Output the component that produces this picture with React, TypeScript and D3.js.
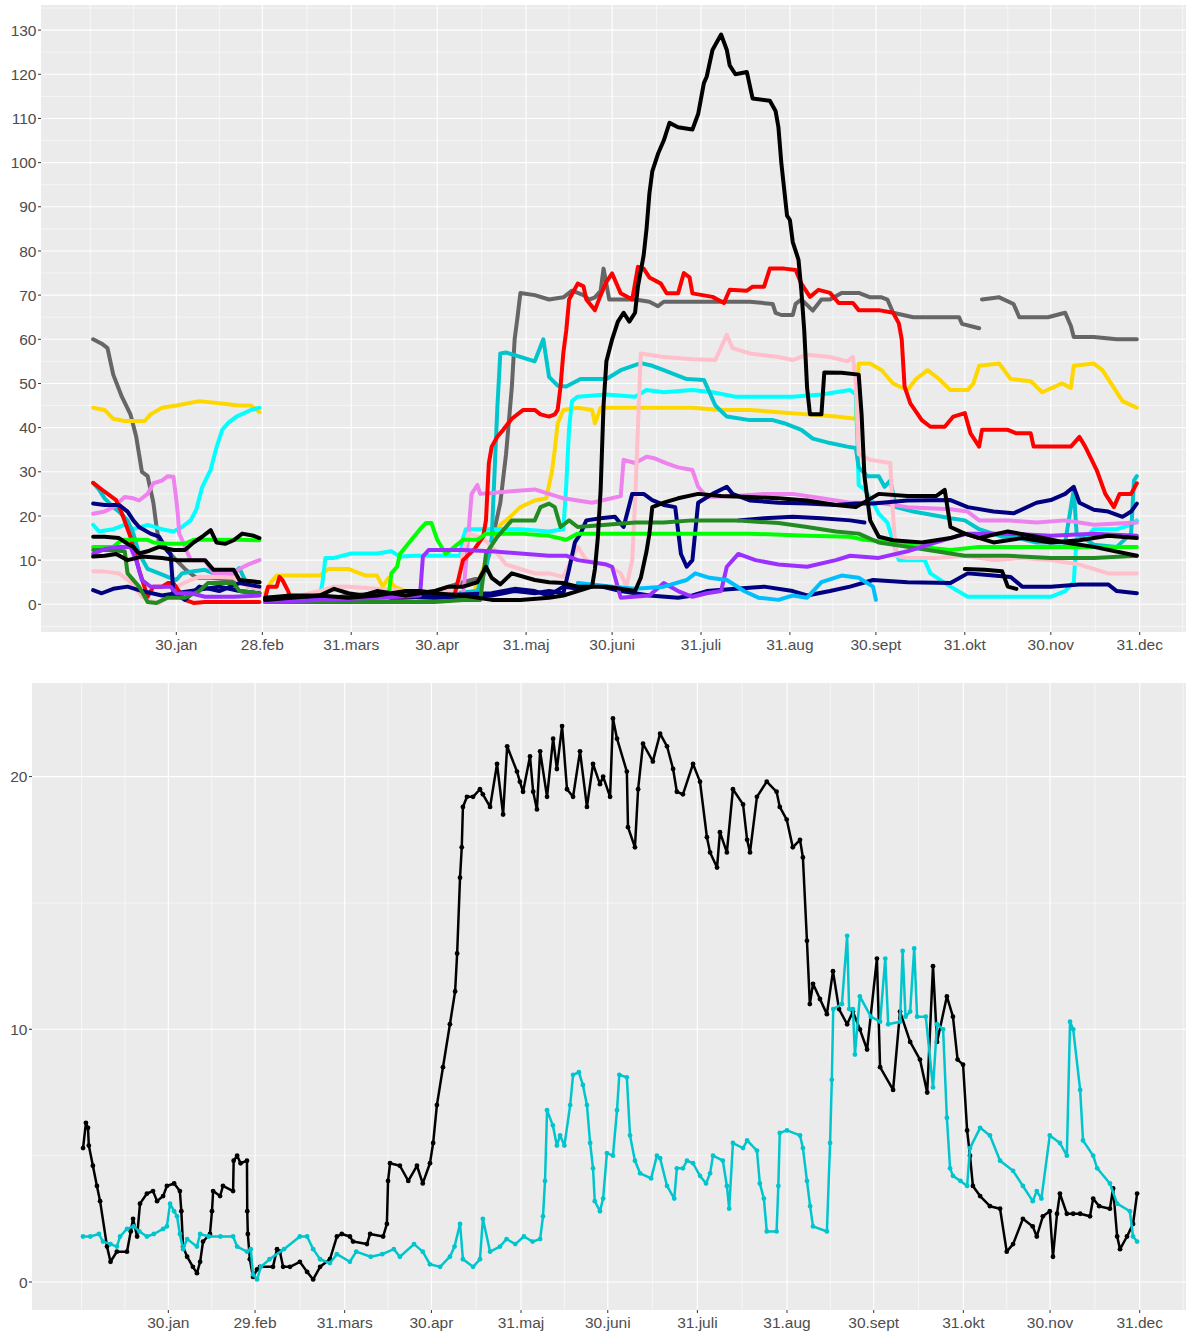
import React from "react";
import * as d3 from "d3";

type P = [number, number] | null;

// x values are day-of-year (0 = 31 Dec of the previous year)
const xTickDays = [30, 60, 91, 121, 152, 182, 213, 244, 274, 305, 335, 366];
const topXLabels = ["30.jan", "28.feb", "31.mars", "30.apr", "31.maj", "30.juni", "31.juli", "31.aug", "30.sept", "31.okt", "30.nov", "31.dec"];
const bottomXLabels = ["30.jan", "29.feb", "31.mars", "30.apr", "31.maj", "30.juni", "31.juli", "31.aug", "30.sept", "31.okt", "30.nov", "31.dec"];
const xMinorDays = [0, 15, 45, 75.5, 106, 136.5, 167, 197.5, 228.5, 259, 289.5, 320, 350.5, 381];
const topYTicks = [0, 10, 20, 30, 40, 50, 60, 70, 80, 90, 100, 110, 120, 130];
const topYMinor = [-5, 5, 15, 25, 35, 45, 55, 65, 75, 85, 95, 105, 115, 125, 135];
const bottomYTicks = [0, 10, 20];
const bottomYMinor = [5, 15];

// ---------- top panel series ----------
const sGray: P[] = [[1,60],[4,59],[6,58],[8,52],[11,47],[14,43],[16,38],[17,34],[18,30],[20,29],[22,23],[23,18],[24,14],[27,12],[30,10],[33,8],[37,6],[42,6],[50,5.5],[59,5],null,
  [61,1.5],[70,1.5],[80,1],[90,2],[100,2.5],[110,2],[120,3],[125,4],[130,5],[136,6],[139,11],[143,23],[145,34],[147,49],[148,60],[149,65],[150,70.5],[155,70],[160,69],[165,69.5],[168,71],[172,70],[174,69],[176,69.5],[178,71],[179,76],[181,69],[185,69],[190,69],[195,68.5],[198,67.5],[200,68.5],[210,68.5],[220,68.5],[230,68.5],[238,68],[239,66],[241,65.5],[245,65.5],[246,68],[248,69],[252,66.5],[255,69],[258,69],[262,70.5],[268,70.5],[272,69.5],[276,69.5],[278,69],[280,66],[287,65],[295,65],[303,65],[304,63.5],[310,62.5],null,
  [311,69],[317,69.5],[322,68],[324,65],[334,65],[340,66],[342,63],[343,60.5],[350,60.5],[358,60],[365,60]];
const sGold: P[] = [[1,44.5],[5,44],[8,42],[12,41.5],[16,41.5],[19,41.5],[21,43],[25,44.5],[30,45],[38,46],[45,45.5],[52,45],[56,45],[58,44],[59,43.5],null,
  [61,2.5],[63,5],[65,6.5],[70,6.5],[80,6.5],[83,8],[90,8],[96,6.5],[100,6.5],[102,4],[104,6],[106,4],[110,3],[120,3],[130,2.5],[134,3],[137,8],[140,14],[143,18],[146,19.5],[150,22],[155,23.5],[159,24],[160,27],[161,30],[162,35],[163,41],[165,44],[170,44.5],[175,44],[176,41],[178,44.5],[185,44.5],[200,44.5],[210,44.5],[220,44],[230,44],[240,43.5],[250,43],[260,42.5],[267,42],[268,54.5],[272,54.5],[276,53],[280,50],[285,48.5],[288,51],[292,53],[296,51],[300,48.5],[306,48.5],[308,50],[310,54],[317,54.5],[321,51],[328,50.5],[332,48],[339,50],[342,49],[343,54],[350,54.5],[353,53],[357,49],[360,46],[365,44.5]];
const sCyan: P[] = [[1,18],[3,16.5],[8,17],[12,18],[15,17],[20,18],[25,17],[29,16.5],[32,17.5],[35,19],[37,21.5],[39,26.5],[42,30.5],[44,35.5],[46,39.5],[48,41],[51,42.5],[56,44],[59,44.5],null,
  [61,1],[70,1],[80,1.5],[81,5],[82,10.5],[85,10.5],[91,11.5],[100,11.5],[105,12],[108,10.8],[113,11],[120,11],[129,11],[130,15],[131,17],[140,17],[150,17],[160,16.5],[165,17],[166,27],[167,40],[168,46],[170,47],[180,47.5],[190,47],[194,48.5],[200,48],[210,48.5],[217,48],[225,47],[235,47],[245,47],[255,47.5],[260,48],[265,48.5],[267,47.5],[268,27],[270,26],[273,23],[275,20.5],[278,18.5],[282,10],[291,10],[293,7],[300,4],[306,1.7],[315,1.7],[325,1.7],[335,1.7],[340,3],[343,5],[344,15],[347,15],[350,17],[358,17],[363,18],[365,19]];
const sTurq: P[] = [[1,27.5],[3,26],[5,24],[8,22],[10,21],[13,19],[15,16],[17,11.5],[20,8],[24,7],[27,6.2],[30,5.5],[32,7],[36,7.5],[40,7.8],[43,7],[50,7],[52,8.2],[55,4],[59,3.5],null,
  [61,1],[80,1],[100,1.5],[120,2],[135,3],[138,8],[140,15],[141,30],[142,45],[143,56.8],[145,57],[150,56],[155,55],[158,60],[160,51.5],[163,49.5],[166,49.3],[171,51],[180,51],[185,53],[192,54.6],[196,54],[200,53],[208,51],[214,50.8],[218,45],[222,42.5],[230,41.7],[238,41.7],[242,41],[246,40],[248,39.5],[252,37.5],[258,36.5],[264,35.7],[267,35.4],[268,31],[271,29],[275,29],[277,26.6],[279,28],[281,22],[287,21],[300,19.5],[305,19],[310,17],[318,15.3],[322,15.3],[330,14],[340,14],[342,22],[343,26],[344,16],[350,13.5],[358,13],[363,16],[364,28],[365,29]];
const sViolet: P[] = [[1,20.5],[5,21],[8,22],[12,24.3],[15,24],[17,23.5],[20,25],[22,27.4],[25,28],[27,29],[29,28.9],[30,23.6],[30.5,20.6],[31,16],[32,14.6],[35,10],[40,10],[43,7],[50,7],[52,8],[55,9],[59,10],null,
  [61,0.5],[80,1],[100,1],[125,1.5],[130,2],[131,9],[133,25],[135,27],[136,25],[145,25.5],[155,26],[160,25],[165,24],[175,23],[185,24.5],[186,32.7],[190,32],[194,33.4],[197,33],[201,31.9],[205,31],[210,30.4],[212,26.6],[215,24.3],[225,24.5],[235,25],[245,25],[255,24],[265,23],[275,23],[285,22],[300,21.5],[306,21],[310,19],[320,19],[330,18.5],[340,19],[350,18],[365,18.5]];
const sPink: P[] = [[1,7.5],[5,7.4],[10,7],[14,5],[18,1.7],[22,0.5],[24,0.3],[28,2],[30,4],[35,5.5],[38,6.2],[45,6.2],[50,6],[55,4],[59,3.5],null,
  [61,1],[70,1.5],[80,3],[85,4],[90,4],[100,3.5],[110,3],[120,3],[128,3],[130,12],[132,16],[137,15],[141,12.3],[145,9],[150,8],[155,7],[160,7],[165,6.2],[170,13],[173,10],[180,9],[185,7],[187,4],[189,10],[190,23],[191,40],[192,56.8],[200,56],[210,55.5],[218,55.3],[222,61],[224,58],[230,56.8],[240,56],[245,55.3],[250,56.5],[258,56],[264,55],[266,56],[267,50],[268,34],[272,32.7],[279,32],[280,20],[281,11],[285,10.5],[295,10.5],[305,11],[315,10],[325,10.5],[335,10],[345,9],[350,8],[355,7],[365,7]];
const sRed: P[] = [[1,27.5],[4,26],[9,23.6],[11,20.6],[14,15.3],[17,7.8],[20,1.7],[22,4],[25,4],[27,4.8],[29,4.8],[33,1],[36,0.3],[40,0.5],[50,0.5],[59,0.5],null,
  [61,1.5],[62,4],[65,4],[66,6.2],[67,5.5],[69,3],[70,1],[80,0.5],[100,1],[110,1.5],[120,2],[127,2],[130,10],[134,12.5],[137,15.3],[138,19],[139,31.9],[140,35.7],[142,38],[144,39.5],[147,42],[151,44],[155,44],[157,43],[160,42.5],[162,43],[163,44],[164,49.3],[165,57],[166,62],[167,69],[170,72.6],[172,72],[173,69],[176,66.6],[178,70],[180,73],[182,74.9],[185,70.4],[189,69],[191,76.4],[193,76],[195,74],[199,72.6],[201,70.4],[205,70.4],[207,75],[209,74],[210,70.4],[217,69.6],[221,68.2],[223,71.2],[229,71],[231,71.9],[235,71.9],[237,76],[242,76],[246,75.7],[248,72.6],[251,69.6],[254,71.2],[258,70.5],[261,68.2],[266,68.2],[268,66.6],[275,66.6],[280,66],[282,63.6],[283,60],[284,49.3],[286,45.5],[290,41.7],[293,40.2],[298,40.2],[301,42.5],[305,43.3],[307,38.7],[310,35.7],[311,39.5],[320,39.5],[323,38.7],[328,38.7],[329,35.7],[336,35.7],[342,35.7],[345,37.9],[347,35.7],[351,30.4],[354,25],[357,22],[359,25],[363,25],[365,27.4]];
const sNavy1: P[] = [[1,22.8],[5,22.5],[10,22.5],[13,21],[15,19],[17,17.5],[21,16],[24,15.3],[27,12],[28,11.4],[29,2.5],[33,1],[38,4],[45,3],[52,4.8],[59,4],null,
  [61,1],[80,1],[100,2],[120,1.5],[140,2],[148,3],[155,2.5],[160,3],[165,2.5],[167,8],[169,14],[171,16],[173,19],[178,19.5],[183,19.8],[186,17.5],[189,25],[193,25],[196,23.6],[200,22.5],[204,22],[206,11.4],[208,8.5],[210,10],[212,23],[217,25],[222,26.6],[224,25],[230,23.5],[240,23],[250,22.8],[260,22.5],[267,22.8],[273,22.8],[285,23.5],[300,23.6],[306,22],[315,21],[322,20.6],[330,23],[335,23.6],[340,25],[343,26.6],[345,23],[350,21.4],[355,21],[360,19.8],[363,21],[365,22.8]];
const sNavy2: P[] = [[1,3.2],[4,2.5],[8,3.5],[13,4],[18,3],[25,2],[35,3],[45,4],[52,3],[59,2.5],null,
  [61,1],[90,1.5],[120,2],[140,2.5],[148,3.5],[155,3],[160,2],[165,4],[170,3.5],[175,4.5],[185,3],[195,2],[205,1.5],[210,2],[215,3],[225,3.5],[235,4],[245,3],[250,2],[258,3],[265,4],[273,5.5],[285,5],[300,4.8],[306,7],[315,6.5],[321,6.2],[325,4],[335,4],[345,4.5],[355,4.5],[358,3],[365,2.5]];
const sNavy3: P[] = [[226,19],[235,19.5],[245,19.8],[255,19.5],[265,19],[270,18.5]];
const sGreen: P[] = [[1,13],[8,13],[11,14.6],[20,14.6],[22,14],[27,13.7],[33,13.7],[36,14.6],[45,14.6],[52,14.6],[59,14.5],null,
  [61,0.5],[80,0.5],[100,1],[104,1.5],[105,7],[107,8.5],[108,11.4],[112,14.6],[115,17],[117,18.4],[119,18.4],[121,14.6],[124,11.4],[127,13],[130,14.6],[135,14.6],[138,16],[150,16],[160,15.5],[166,14.6],[170,16],[190,16],[210,16],[230,16],[250,15.5],[265,15.3],[270,14.6],[280,14],[290,13],[300,12.3],[310,13],[320,13],[335,13],[350,13],[365,13]];
const sForest: P[] = [[1,12.3],[6,12.3],[12,12],[13,7],[17,4],[20,0.5],[23,0.3],[27,1.5],[33,1.5],[38,3],[41,4.8],[50,4.8],[52,3],[59,2.5],null,
  [61,0.5],[90,0.5],[120,0.5],[130,1],[136,1],[138,11.4],[142,15.3],[147,19],[155,19],[157,22],[160,22.8],[162,22],[164,17.5],[167,19],[170,17.5],[180,18],[190,18.5],[200,18.5],[210,19],[225,19],[240,18.4],[250,17.5],[260,16.5],[268,16],[275,14],[285,13],[295,12],[305,11],[320,11],[335,10.5],[350,10.5],[365,11]];
const sPurple: P[] = [[1,11.4],[5,12.5],[10,13],[14,13],[16,10],[18,5.5],[21,4],[28,4],[30,2.5],[35,2.5],[40,1.7],[50,1.7],[59,2],null,
  [61,0.5],[80,1],[100,1.5],[115,2],[116,10.8],[118,12.3],[130,12.3],[140,12],[150,11.5],[160,11],[166,11],[170,10],[180,9],[182,8.5],[185,1.5],[195,2],[200,4.8],[205,3],[210,1.7],[215,2.5],[220,3],[222,8.5],[226,11.4],[232,10],[240,9],[250,8.5],[260,10],[265,11],[275,10.5],[285,12],[295,14],[300,15],[306,16],[320,16],[335,15.5],[350,16],[365,15.5]];
const sDeepSky: P[] = [[170,4.8],[175,4.5],[182,4],[190,3.5],[200,4],[208,5.5],[211,7],[216,6],[222,5.5],[228,3],[233,1.5],[240,1],[245,2],[250,1.5],[255,5],[262,6.5],[268,6],[273,4],[274,1]];
const sBlackA: P[] = [[1,15.3],[5,15.3],[10,15],[13,13.7],[15,13],[17,11.5],[20,12],[24,13],[29,12.3],[33,12.3],[36,14],[39,15.3],[42,16.8],[44,14],[47,13.7],[50,14.5],[53,16],[57,15.5],[59,15],null,
  [61,1],[70,1.5],[80,2],[90,1.5],[100,2],[110,3],[115,3],[120,2.5],[130,2],[140,1],[150,1],[160,1.5],[165,2],[170,3],[175,4],[176,8],[177,15],[178,26],[179,45],[180,55],[182,60],[184,64],[186,66],[188,64],[190,66],[191,72],[193,79],[194,85],[195,93],[196,98],[198,102],[200,105],[202,109],[205,108],[210,107.5],[212,111],[214,118],[215,119.5],[217,125.5],[220,129],[222,125.5],[223,122],[225,120],[229,120.5],[231,114.5],[237,114],[239,111.7],[240,108],[241,100],[242,94],[243,88],[244,87],[245,82],[247,78],[248,71],[249,62],[250,49],[251,43],[255,43],[256,52.5],[262,52.4],[268,52],[269,43],[270,29],[272,19],[275,15.3],[280,14.5],[290,14],[300,15],[305,16],[315,14],[325,15],[335,14],[345,14.5],[355,15.5],[365,15]];
const sBlackB: P[] = [[1,10.8],[5,11],[9,11.4],[13,10],[18,10.8],[25,10.5],[30,10],[35,10],[40,10],[43,7.8],[50,7.8],[52,5.5],[59,5],null,
  [61,1.5],[70,2],[80,2],[85,3.5],[90,2.5],[95,2],[100,3],[110,2],[120,3],[125,4],[130,4],[135,5],[138,8.5],[140,6],[143,4.5],[147,7],[155,5.5],[160,5],[165,4.8],[170,4],[180,4],[185,3.5],[190,3],[192,6],[194,12],[195,16],[196,22],[200,23],[205,24],[212,25],[220,24.5],[230,24.3],[240,24],[250,23.5],[260,22.5],[267,22],[275,25],[285,24.5],[295,24.5],[298,25.9],[300,17.5],[305,16],[310,15],[320,16.5],[330,15.3],[340,14],[350,13],[365,11]];
const sBlackC: P[] = [[305,8],[312,7.8],[318,7.5],[320,4],[323,3.5]];

const topSeries: P[][] = [sGray, sGold, sCyan, sTurq, sViolet, sPink, sRed, sNavy1, sNavy2, sNavy3, sGreen, sForest, sPurple, sDeepSky, sBlackA, sBlackB, sBlackC];
const topColors = ["#666666", "#FFD700", "#00FFFF", "#00C5CD", "#EE82EE", "#FFC0CB", "#FF0000", "#000080", "#000080", "#000080", "#00FF00", "#228B22", "#9B30FF", "#00BFFF", "#000000", "#000000", "#000000"];

// ---------- bottom panel series ----------
const bBlack: P[] = [[0.5,5.3],[1.5,6.3],[2.2,6.1],[2.5,5.4],[3.9,4.6],[5.3,3.8],[6.4,3.2],[8.8,1.4],[10,0.8],[12.2,1.2],[15.7,1.2],[17,2],[17.8,2.5],[19.2,1.8],[20.2,3.1],[22.6,3.5],[24.7,3.6],[26.1,3.2],[28.2,3.4],[29.5,3.8],[32,3.9],[34,3.6],[34.5,2.8],[35.1,1.4],[36.5,1],[38.5,0.6],[39.9,0.35],[41,0.8],[42,1.6],[44.4,1.9],[45.1,2.8],[45.5,3.6],[47.9,3.4],[48.9,3.8],[52.4,3.6],[52.6,4.8],[53.8,5],[55,4.7],[57.2,4.8],[57.3,2.8],[57.5,1.9],[58.2,0.9],[59.3,0.2],[60.7,0.5],[61.7,0.6],[66.2,0.6],[67.6,1.3],[68.6,1.2],[69.7,0.6],[72.1,0.6],[75.5,0.8],[78,0.4],[80.1,0.1],[82.5,0.6],[85.9,0.9],[88.3,1.8],[90,1.9],[92.8,1.8],[93.9,1.6],[98.7,1.5],[99.8,1.9],[104.3,1.8],[105.6,2.3],[106,4],[106.7,4.7],[110.1,4.6],[113,4],[116,4.6],[118,3.9],[120.5,4.7],[121.6,5.5],[122.9,7],[125,8.5],[127.4,10.2],[129.2,11.5],[129.9,13],[130.9,16],[131.5,17.2],[131.9,18.8],[133.3,19.2],[135.4,19.2],[137.8,19.5],[138.8,19.3],[141.3,18.8],[143.7,20.5],[145.8,18.5],[147.2,21.2],[150.6,20.2],[151.6,19.8],[152.7,19.4],[155.1,20.8],[156.2,19.4],[157.5,18.7],[158.6,21],[161,19.2],[163.1,21.5],[164.4,20.3],[166.2,22],[167.9,19.5],[170,19.2],[172.4,21],[174.8,18.8],[176.9,20.5],[179.3,19.7],[180.4,20],[182.8,19.2],[183.8,22.3],[185.2,21.5],[188.6,20.2],[189,18],[191.4,17.2],[192.5,19.5],[194.2,21.3],[197.6,20.6],[200.1,21.7],[202.5,21.2],[204.6,20.3],[205.9,19.4],[208,19.3],[211.5,20.5],[213.9,19.8],[216.3,17.6],[217.4,17],[219.8,16.4],[220.8,17.8],[223.2,17],[225.3,19.5],[228.8,18.9],[230.2,17.5],[231.2,17],[233.6,19.2],[237,19.8],[240.4,19.4],[241.5,18.8],[243.9,18.3],[246,17.2],[248.5,17.5],[249.5,16.8],[250.9,13.5],[251.9,11],[253,11.8],[255.4,11.2],[257.8,10.6],[259.9,12.3],[262,10.8],[264.8,10.2],[266.8,10.7],[269.2,10],[271.7,9.2],[275.1,12.8],[276.2,8.5],[280.7,7.6],[283.1,10.7],[286.6,9.5],[290,8.8],[292.5,7.5],[294.5,12.5],[295.9,9.5],[299.3,11.3],[301.4,10.5],[303,8.8],[304.9,8.6],[306.3,6],[307.3,5],[308.3,3.8],[310.8,3.4],[314.2,3],[317.7,2.9],[320,1.2],[322.2,1.5],[325.6,2.5],[329,2.2],[330.4,1.8],[332.5,2.6],[334.9,2.8],[336,1],[337.4,2.7],[338.4,3.5],[340.8,2.7],[343,2.7],[345.4,2.7],[348.8,2.6],[349.9,3.3],[352,3],[355.7,2.9],[356.8,3.7],[358.2,1.8],[359.2,1.3],[361.6,1.8],[363.7,2.3],[365.1,3.5]];
const bTurq: P[] = [[0.5,1.8],[3,1.8],[6,1.9],[7.4,1.6],[10,1.5],[12.2,1.4],[13.3,1.8],[15.7,2.1],[18,2.2],[20,2],[22.6,1.8],[25,1.9],[28.2,2.1],[29.5,2.2],[30.6,3.1],[32,2.8],[33,2.6],[34,1.9],[35.1,1.3],[36.5,1.7],[39.9,1.4],[41,1.9],[44,1.8],[48,1.8],[52.4,1.8],[53.8,1.4],[57.2,1.2],[58.5,1.3],[59.3,0.3],[60.7,0.1],[62,0.6],[65,0.9],[70,1.3],[75.5,1.8],[78,1.8],[80.1,1.3],[82.5,0.9],[85.9,0.75],[88.3,1.1],[92.8,0.8],[95,1.2],[100,1],[104,1.1],[108,1.3],[110.1,1],[115,1.5],[118,1.2],[120.5,0.7],[124,0.6],[127.4,1],[129,1.4],[130.9,2.3],[131.9,0.9],[135.4,0.6],[137.8,0.9],[138.8,2.5],[141.3,1.2],[144.7,1.4],[147,1.7],[150,1.5],[153,1.8],[156,1.6],[158.6,1.7],[159.6,2.6],[160.3,4],[161,6.8],[163,6.2],[164.4,5.4],[165.5,5.8],[167,5.4],[169,7],[170,8.2],[172,8.3],[173.4,7.8],[174.8,7],[175.9,5.5],[176.9,4.5],[177.5,3.2],[179.3,2.8],[180.4,3.3],[181.7,5.1],[183.8,5],[185.2,6.8],[186,8.2],[188.6,8.1],[189.7,5.8],[191.4,4.8],[193.2,4.3],[197,4.1],[199,5],[200.1,4.9],[202.5,3.8],[205,3.3],[205.9,4.5],[208,4.5],[209.4,4.8],[211.5,4.7],[213.9,4.2],[216,3.9],[217.4,4.3],[218.4,5],[221.8,4.8],[223.2,3.8],[224,2.9],[225.3,5.5],[228.8,5.3],[230.2,5.6],[233.6,5.2],[234.6,3.9],[236,3.3],[237,2],[240.4,2],[241,3.8],[241.5,5.9],[244,6],[248.5,5.8],[249.5,5.3],[250.9,4],[252,3],[253,2.2],[257.8,2],[258.9,5.5],[259.5,8],[260,10.8],[263,11],[264.8,13.7],[265.5,10.8],[266.8,10.8],[267.5,9],[269.2,11.3],[273,10.5],[276.2,10.3],[278,12.8],[279,10.2],[283.1,10.3],[284,13.1],[285,10.5],[286.6,10.7],[288,13.2],[289,10.5],[292,10.5],[294.5,7.7],[295.9,10.2],[298,10],[299.3,6.5],[300.4,4.5],[301.4,4.2],[304,4],[306.3,3.8],[307.3,5.3],[310.8,6.1],[314.2,5.8],[317.7,4.8],[322.2,4.4],[325.6,3.8],[329,3.2],[330.4,3.6],[332,3.3],[334.9,5.8],[338.4,5.5],[340.8,5],[341.9,10.3],[343,10],[345.4,7.6],[346.4,5.6],[349.9,5],[351.3,4.5],[355.7,3.9],[358.2,3.1],[362.6,2.8],[363.7,1.8],[365.1,1.6]];

const bottomSeries: P[][] = [bBlack, bTurq];
const bottomColors = ["#000000", "#00C5CD"];

const FONT = "'Liberation Sans', Arial, Helvetica, sans-serif";
const PANEL_BG = "#EBEBEB";
const TEXT = "#4D4D4D";

type PanelProps = {
  left: number; right: number; top: number; bottom: number;
  x: d3.ScaleLinear<number, number>; y: d3.ScaleLinear<number, number>;
  yTicks: number[]; yMinor: number[]; xLabels: string[];
  series: P[][]; colors: string[]; width: number; dotR: number; clipId: string;
};

function Panel(p: PanelProps) {
  const line = d3.line<P>()
    .defined((d) => d !== null)
    .x((d) => p.x((d as [number, number])[0]))
    .y((d) => p.y((d as [number, number])[1]));
  return (
    <g>
      <defs>
        <clipPath id={p.clipId}>
          <rect x={p.left} y={p.top} width={p.right - p.left} height={p.bottom - p.top} />
        </clipPath>
      </defs>
      <rect x={p.left} y={p.top} width={p.right - p.left} height={p.bottom - p.top} fill={PANEL_BG} />
      <g clipPath={`url(#${p.clipId})`}>
        {p.yMinor.map((v) => (
          <line key={"ym" + v} x1={p.left} x2={p.right} y1={p.y(v)} y2={p.y(v)} stroke="#fff" strokeWidth={0.55} />
        ))}
        {xMinorDays.map((v) => (
          <line key={"xm" + v} y1={p.top} y2={p.bottom} x1={p.x(v)} x2={p.x(v)} stroke="#fff" strokeWidth={0.55} />
        ))}
        {p.yTicks.map((v) => (
          <line key={"yM" + v} x1={p.left} x2={p.right} y1={p.y(v)} y2={p.y(v)} stroke="#fff" strokeWidth={1.1} />
        ))}
        {xTickDays.map((v) => (
          <line key={"xM" + v} y1={p.top} y2={p.bottom} x1={p.x(v)} x2={p.x(v)} stroke="#fff" strokeWidth={1.1} />
        ))}
        {p.series.map((s, i) => (
          <g key={"s" + i}>
            <path d={line(s) || ""} fill="none" stroke={p.colors[i]} strokeWidth={p.width}
              strokeLinecap="round" strokeLinejoin="round" />
            {p.dotR > 0 && s.map((d, j) => d === null ? null : (
              <circle key={j} cx={p.x(d[0])} cy={p.y(d[1])} r={p.dotR} fill={p.colors[i]} />
            ))}
          </g>
        ))}
      </g>
      {p.yTicks.map((v) => (
        <g key={"yt" + v}>
          <line x1={p.left - 3} x2={p.left} y1={p.y(v)} y2={p.y(v)} stroke="#333" strokeWidth={1} />
          <text x={p.left - 4.5} y={p.y(v)} dy="0.36em" textAnchor="end" fontFamily={FONT} fontSize={15.5} fill={TEXT}>{v}</text>
        </g>
      ))}
      {xTickDays.map((v, i) => (
        <g key={"xt" + v}>
          <line x1={p.x(v)} x2={p.x(v)} y1={p.bottom} y2={p.bottom + 3} stroke="#333" strokeWidth={1} />
          <text x={p.x(v)} y={p.bottom + 18} textAnchor="middle" fontFamily={FONT} fontSize={15.5} fill={TEXT}>{p.xLabels[i]}</text>
        </g>
      ))}
    </g>
  );
}

export default function App() {
  const topX = d3.scaleLinear().domain([0, 366]).range([90.3, 1139.7]);
  const topY = d3.scaleLinear().domain([0, 130]).range([604.3, 30.1]);
  const botX = d3.scaleLinear().domain([0, 366]).range([81.6, 1139.7]);
  const botY = d3.scaleLinear().domain([0, 20]).range([1282, 776.6]);
  return (
    <svg width={1186} height={1334} style={{ position: "absolute", left: 0, top: 0, background: "#fff" }}>
      <rect x={0} y={0} width={1186} height={1334} fill="#fff" />
      <Panel left={41} right={1186} top={5} bottom={632} x={topX} y={topY}
        yTicks={topYTicks} yMinor={topYMinor} xLabels={topXLabels}
        series={topSeries} colors={topColors} width={4} dotR={0} clipId="clipTop" />
      <Panel left={32} right={1186} top={683} bottom={1310} x={botX} y={botY}
        yTicks={bottomYTicks} yMinor={bottomYMinor} xLabels={bottomXLabels}
        series={bottomSeries} colors={bottomColors} width={2.5} dotR={2.4} clipId="clipBot" />
    </svg>
  );
}
